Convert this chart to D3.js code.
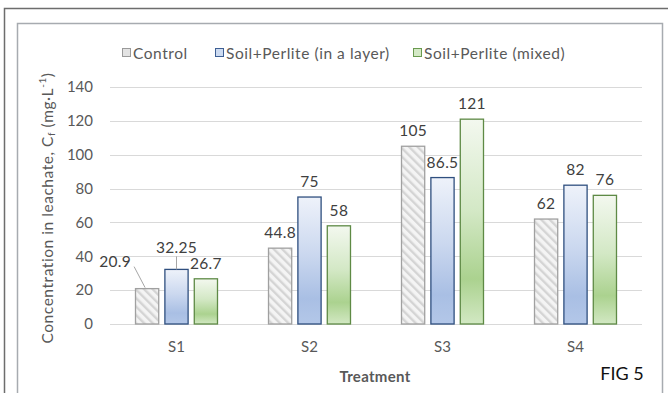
<!DOCTYPE html>
<html>
<head>
<meta charset="utf-8">
<script src="https://cdn.jsdelivr.net/npm/d3@7"></script>
<style>
  html, body { margin: 0; padding: 0; background: #fff; }
  svg { display: block; font-family: Lato, "Open Sans", sans-serif; }
</style>
</head>
<body>
<svg id="chart" width="668" height="393"></svg>
<script>
// Leachate concentration per treatment
const categories = ["S1", "S2", "S3", "S4"];
const seriesNames = ["Control", "Soil+Perlite (in a layer)", "Soil+Perlite (mixed)"];
const control = [20.9, 44.8, 105, 62];
const perliteLayer = [32.25, 75, 86.5, 82];
const perliteMixed = [26.7, 58, 121, 76];
const yTicks = [0, 20, 40, 60, 80, 100, 120, 140];
const valueLabels = [
  ["20.9", "44.8", "105", "62"],
  ["32.25", "75", "86.5", "82"],
  ["26.7", "58", "121", "76"]
];

const series = [control, perliteLayer, perliteMixed];

const svg = d3.select("#chart");
const W = 668, H = 393;
const margin = { left: 110, right: 26, top: 87, bottom: 69 };
const plotW = W - margin.left - margin.right;
const plotH = H - margin.top - margin.bottom;

// frames
svg.append("rect").attr("x", 4.5).attr("y", 8.5).attr("width", 700).attr("height", 420)
  .attr("fill", "none").attr("stroke", "#6d6d6d").attr("stroke-width", 1.5);
svg.append("rect").attr("x", 17.5).attr("y", 23.5).attr("width", 645).attr("height", 420)
  .attr("fill", "#fff").attr("stroke", "#a7abb0").attr("stroke-width", 1.5);

const defs = svg.append("defs");
const hatch = defs.append("pattern").attr("id", "hatch").attr("patternUnits", "userSpaceOnUse")
  .attr("width", 6).attr("height", 6).attr("patternTransform", "rotate(-45)");
hatch.append("rect").attr("width", 6).attr("height", 6).attr("fill", "#f4f4f4");
hatch.append("rect").attr("width", 2.4).attr("height", 6).attr("fill", "#d4d4d4");

function grad(id, stops) {
  const g = defs.append("linearGradient").attr("id", id)
    .attr("x1", 0).attr("y1", 0).attr("x2", 0).attr("y2", 1);
  stops.forEach(([o, c]) => g.append("stop").attr("offset", o).attr("stop-color", c));
}
grad("gBlue", [[0, "#eef2fa"], [0.45, "#cbd8ef"], [0.8, "#a9bfe4"], [1, "#b3c7e8"]]);
grad("gGreen", [[0, "#f3f8ef"], [0.45, "#d3e8c5"], [0.78, "#abd28f"], [1, "#d2e8c3"]]);

const fills = ["url(#hatch)", "url(#gBlue)", "url(#gGreen)"];
const strokes = ["#a0a0a0", "#2f4f7f", "#5e8a45"];
const legendSw = ["#e3e3e3", "#cddbf1", "#d4e9c6"];
const legendStroke = ["#9a9a9a", "#3e5f94", "#6a9a4f"];

const g = svg.append("g").attr("transform", `translate(${margin.left},${margin.top})`);

const x0 = d3.scaleBand().domain(categories).range([0, plotW]).padding(0);
const x1 = d3.scaleBand().domain(d3.range(3)).range([x0.bandwidth() / 2 - 41, x0.bandwidth() / 2 + 41])
  .paddingInner(0.21).paddingOuter(0);
const y = d3.scaleLinear().domain([0, 140]).range([plotH, 0]);

// gridlines
g.append("g").selectAll("line").data(yTicks).join("line")
  .attr("x1", 0).attr("x2", plotW)
  .attr("y1", d => Math.round(y(d)) + 0.5).attr("y2", d => Math.round(y(d)) + 0.5)
  .attr("stroke", "#d9d9d9").attr("stroke-width", 1);

// y axis
const yAxis = g.append("g").call(d3.axisLeft(y).tickValues(yTicks).tickSize(0).tickPadding(17));
yAxis.select(".domain").remove();
yAxis.selectAll("text").attr("font-size", 15).attr("fill", "#595959").attr("font-family", "Lato, sans-serif");

// x axis
const xAxis = g.append("g").attr("transform", `translate(0,${plotH})`)
  .call(d3.axisBottom(x0).tickSize(0).tickPadding(17));
xAxis.select(".domain").remove();
xAxis.selectAll("text").attr("font-size", 15).attr("fill", "#595959").attr("font-family", "Lato, sans-serif");

// bars
series.forEach((vals, si) => {
  g.append("g").selectAll("rect").data(vals).join("rect")
    .attr("x", (d, i) => x0(categories[i]) + x1(si))
    .attr("y", d => y(d))
    .attr("width", x1.bandwidth())
    .attr("height", d => y(0) - y(d))
    .attr("fill", fills[si])
    .attr("stroke", strokes[si]).attr("stroke-width", 1.3);
});

// value labels, with a couple moved off the bar and joined by leader lines
const nudge = { "0-0": [-32, -12], "1-0": [0, -6] };
series.forEach((vals, si) => {
  vals.forEach((v, i) => {
    const cx = x0(categories[i]) + x1(si) + x1.bandwidth() / 2;
    const top = y(v);
    const n = nudge[si + "-" + i] || [0, 0];
    const lx = cx + n[0], ly = top - 16 + n[1];
    if (n[0] !== 0 || n[1] !== 0) {
      const leader = n[0] !== 0
        ? [[lx + 19, ly + 6], [cx - 2, top - 1]]
        : [[cx, ly + 9], [cx, top]];
      g.append("line")
        .attr("x1", leader[0][0]).attr("y1", leader[0][1])
        .attr("x2", leader[1][0]).attr("y2", leader[1][1])
        .attr("stroke", "#a6a6a6").attr("stroke-width", 1);
    }
    g.append("text").attr("x", lx).attr("y", ly)
      .attr("text-anchor", "middle").attr("dominant-baseline", "central")
      .attr("font-size", 15.5).attr("fill", "#404040").attr("letter-spacing", 0.3)
      .text(valueLabels[si][i]);
  });
});

// legend
const legendX = [122, 215, 413];
const legend = svg.append("g");
seriesNames.forEach((name, si) => {
  legend.append("rect").attr("x", legendX[si] + 0.5).attr("y", 48.5).attr("width", 8).attr("height", 8)
    .attr("fill", legendSw[si]).attr("stroke", legendStroke[si]).attr("stroke-width", 1);
  legend.append("text").attr("x", legendX[si] + 11).attr("y", 53)
    .attr("dominant-baseline", "central").attr("font-size", 15.5).attr("fill", "#595959")
    .attr("letter-spacing", 0.55)
    .text(name);
});

// axis titles
svg.append("text").attr("x", margin.left + plotW / 2 - 1).attr("y", 376)
  .attr("text-anchor", "middle").attr("dominant-baseline", "central")
  .attr("font-size", 15).attr("font-weight", "bold").attr("fill", "#595959")
  .attr("letter-spacing", 0.3)
  .text("Treatment");

const yt = svg.append("text").attr("transform", "translate(47,208) rotate(-90)")
  .attr("text-anchor", "middle").attr("dominant-baseline", "central")
  .attr("font-size", 15.5).attr("fill", "#595959").attr("letter-spacing", 0.55);
yt.append("tspan").text("Concentration in leachate, C");
yt.append("tspan").attr("font-size", 10).attr("dy", 4).text("f");
yt.append("tspan").attr("dy", -4).text(" (mg·L");
yt.append("tspan").attr("font-size", 10).attr("dy", -5).text("-1");
yt.append("tspan").attr("dy", 5).text(")");

svg.append("text").attr("x", 622).attr("y", 373)
  .attr("text-anchor", "middle").attr("dominant-baseline", "central")
  .attr("font-size", 18).attr("fill", "#111").text("FIG 5");
</script>
</body>
</html>
